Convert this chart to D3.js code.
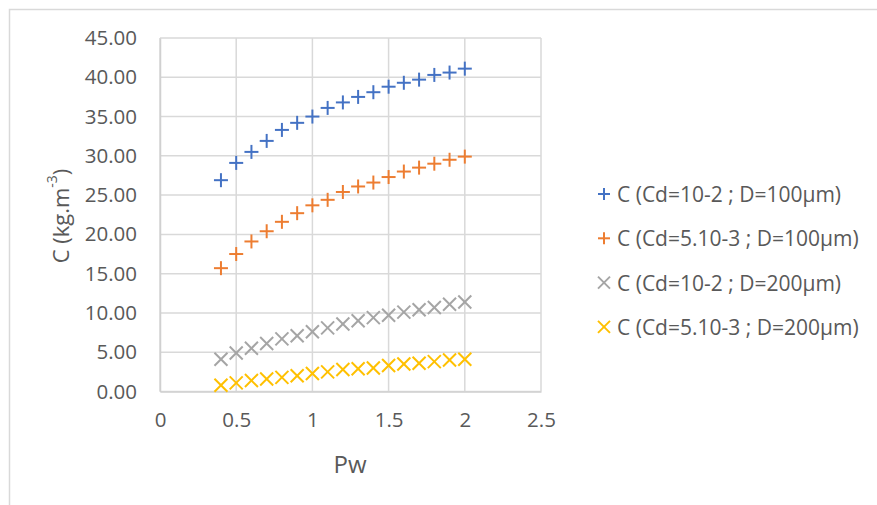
<!DOCTYPE html>
<html><head><meta charset="utf-8">
<script src="https://cdn.jsdelivr.net/npm/d3@7"></script>
<style>body{margin:0;background:#fff}svg{display:block}text{font-family:"Open Sans",sans-serif;fill:#595959}</style>
</head><body><svg id="c" width="877" height="505"></svg>
<script>
const pw = [0.4,0.5,0.6,0.7,0.8,0.9,1.0,1.1,1.2,1.3,1.4,1.5,1.6,1.7,1.8,1.9,2.0];
const s1 = [26.9,29.1,30.5,31.9,33.3,34.2,35.0,36.1,36.8,37.5,38.1,38.8,39.3,39.7,40.3,40.6,41.1];
const s2 = [15.7,17.5,19.1,20.4,21.6,22.7,23.7,24.4,25.4,26.1,26.6,27.3,28.0,28.5,29.0,29.5,29.9];
const s3 = [4.1,4.9,5.5,6.1,6.7,7.1,7.6,8.1,8.6,9.0,9.4,9.7,10.1,10.4,10.7,11.1,11.4];
const s4 = [0.8,1.1,1.4,1.6,1.8,2.0,2.3,2.5,2.8,2.9,3.0,3.3,3.5,3.6,3.8,4.0,4.1];
const seriesNames = ["C (Cd=10-2 ; D=100\u00b5m)","C (Cd=5.10-3 ; D=100\u00b5m)","C (Cd=10-2 ; D=200\u00b5m)","C (Cd=5.10-3 ; D=200\u00b5m)"];
const seriesColors = ["#4472C4","#ED7D31","#A5A5A5","#FFC000"];
const seriesMarkers = ["plus","plus","x","x"];
const yTicks = [0,5,10,15,20,25,30,35,40,45];
const xTicks = [0,0.5,1,1.5,2,2.5];

const svg = d3.select("#c");
// outer chart border
svg.append("rect").attr("x",9.5).attr("y",9.5).attr("width",900).attr("height",600)
  .attr("fill","none").attr("stroke","#d9d9d9").attr("stroke-width",1.5);

const L=160,R=541,T=38,B=391.5;
const x = d3.scaleLinear().domain([0,2.5]).range([L,R]);
const y = d3.scaleLinear().domain([0,45]).range([B,T]);

const g = svg.append("g");
// gridlines
g.selectAll(".hg").data(yTicks).join("line")
  .attr("x1",L).attr("x2",R).attr("y1",d=>y(d)).attr("y2",d=>y(d))
  .attr("stroke","#d9d9d9").attr("stroke-width",1.5);
g.selectAll(".vg").data(xTicks).join("line")
  .attr("y1",T).attr("y2",B).attr("x1",d=>x(d)).attr("x2",d=>x(d))
  .attr("stroke","#d9d9d9").attr("stroke-width",1.5);

// axes
const ya = d3.axisLeft(y).tickValues(yTicks).tickFormat(d3.format(".2f")).tickSize(0).tickPadding(23);
const yg = svg.append("g").attr("transform",`translate(${L},0)`).call(ya);
yg.select(".domain").attr("stroke","#d0d0d0").attr("stroke-width",1.5);
yg.selectAll("text").attr("font-size",20.5).attr("fill","#595959").style("font-family","'Open Sans',sans-serif");

const xa = d3.axisBottom(x).tickValues(xTicks).tickFormat(d=>String(d)).tickSize(0).tickPadding(21);
const xg = svg.append("g").attr("transform",`translate(0,${B})`).call(xa);
xg.select(".domain").attr("stroke","#d0d0d0").attr("stroke-width",1.5);
xg.selectAll("text").attr("font-size",20.5).attr("fill","#595959").style("font-family","'Open Sans',sans-serif");

// titles
svg.append("text").attr("x",350).attr("y",463).attr("text-anchor","middle").attr("dominant-baseline","central")
  .attr("font-size",24).text("Pw");
const yt = svg.append("text").attr("transform","translate(60,216) rotate(-90)").attr("text-anchor","middle")
  .attr("dominant-baseline","central").attr("font-size",22);
yt.append("tspan").text("C (kg.m");
yt.append("tspan").attr("font-size",14).attr("dy",-9).text("-3");
yt.append("tspan").attr("dy",9).text(")");

function marker(sel, type, color, size){
  const h=size/2;
  if(type==="plus"){
    sel.append("line").attr("x1",-h).attr("x2",h).attr("y1",0).attr("y2",0);
    sel.append("line").attr("x1",0).attr("x2",0).attr("y1",-h).attr("y2",h);
  } else {
    sel.append("line").attr("x1",-h).attr("x2",h).attr("y1",-h).attr("y2",h);
    sel.append("line").attr("x1",-h).attr("x2",h).attr("y1",h).attr("y2",-h);
  }
  sel.selectAll("line").attr("stroke",color).attr("stroke-width",2);
}

const allSeries=[s1,s2,s3,s4];
[3,2,1,0].forEach(i=>{
  const data = pw.map((p,j)=>({x:p,y:allSeries[i][j]}));
  const sg = svg.append("g");
  sg.selectAll("g").data(data).join("g")
    .attr("transform",d=>`translate(${x(d.x)},${y(d.y)})`)
    .each(function(){ marker(d3.select(this), seriesMarkers[i], seriesColors[i], seriesMarkers[i]==="plus"?14:13); });
});

// legend
const lg = svg.append("g");
seriesNames.forEach((n,i)=>{
  const yy = 194 + i*44.3;
  const m = lg.append("g").attr("transform",`translate(604,${yy})`);
  marker(m, seriesMarkers[i], seriesColors[i], 12);
  lg.append("text").attr("x",617).attr("y",yy).attr("dominant-baseline","central")
    .attr("font-size",21).text(n);
});
</script></body></html>
